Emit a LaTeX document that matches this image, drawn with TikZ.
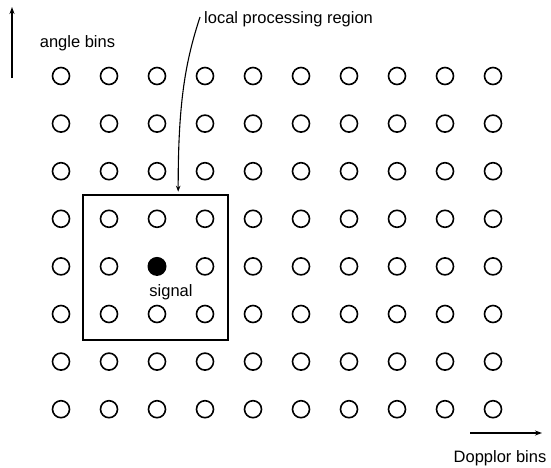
\documentclass[tikz,border=0pt]{standalone}
\usepackage{fontspec}
\setmainfont{Liberation Sans}
\usetikzlibrary{arrows.meta}
\begin{document}
\begin{tikzpicture}[x=1pt,y=-1pt,
  bin/.style={circle,draw,line width=1.6pt,minimum size=17pt,inner sep=0pt},
  sig/.style={circle,fill,minimum size=19pt,inner sep=0pt},
  lbl/.style={inner sep=0pt,font=\fontsize{16.5}{19}\selectfont},
  axis/.style={line width=1.2pt,-{Stealth[length=7pt,width=5pt]}},
  regionbox/.style={draw,line width=2.2pt,minimum width=145pt,minimum height=145pt,inner sep=0pt}]
\useasboundingbox (0,0) rectangle (551,467);
\foreach \i in {0,...,9}{
  \foreach \j in {0,...,7}{
    \ifnum\i=2 \ifnum\j=4 \else
      \node[bin] (c-\i-\j) at (61+48*\i,76+47.6*\j) {};
    \fi\else
      \node[bin] (c-\i-\j) at (61+48*\i,76+47.6*\j) {};
    \fi
  }
}
\node[sig] (signal) at (157,266.4) {};
\node[lbl] (signallbl) at (171,292) {signal};
\node[regionbox] (region) at (155.2,267.3) {};
\node[lbl,anchor=west] (lpr) at (204,19) {local processing region};
\coordinate (tip) at ([xshift=23pt,yshift=2pt]region.north);
\draw[line width=1.1pt,-{Stealth[length=6pt,width=4.5pt]}] ([xshift=-4pt,yshift=2pt]lpr.west) .. controls (186,60) and (178,100) .. (tip);
\node[lbl] (anglelbl) at (77.5,43) {angle bins};
\coordinate (a0) at (12,78);
\coordinate (a1) at (12,7);
\draw[axis] (a0) -- (a1);
\node[lbl] (dopplbl) at (500,458) {Dopplor bins};
\coordinate (d0) at (470,433);
\coordinate (d1) at (542,433);
\draw[axis] (d0) -- (d1);
\end{tikzpicture}
\end{document}
